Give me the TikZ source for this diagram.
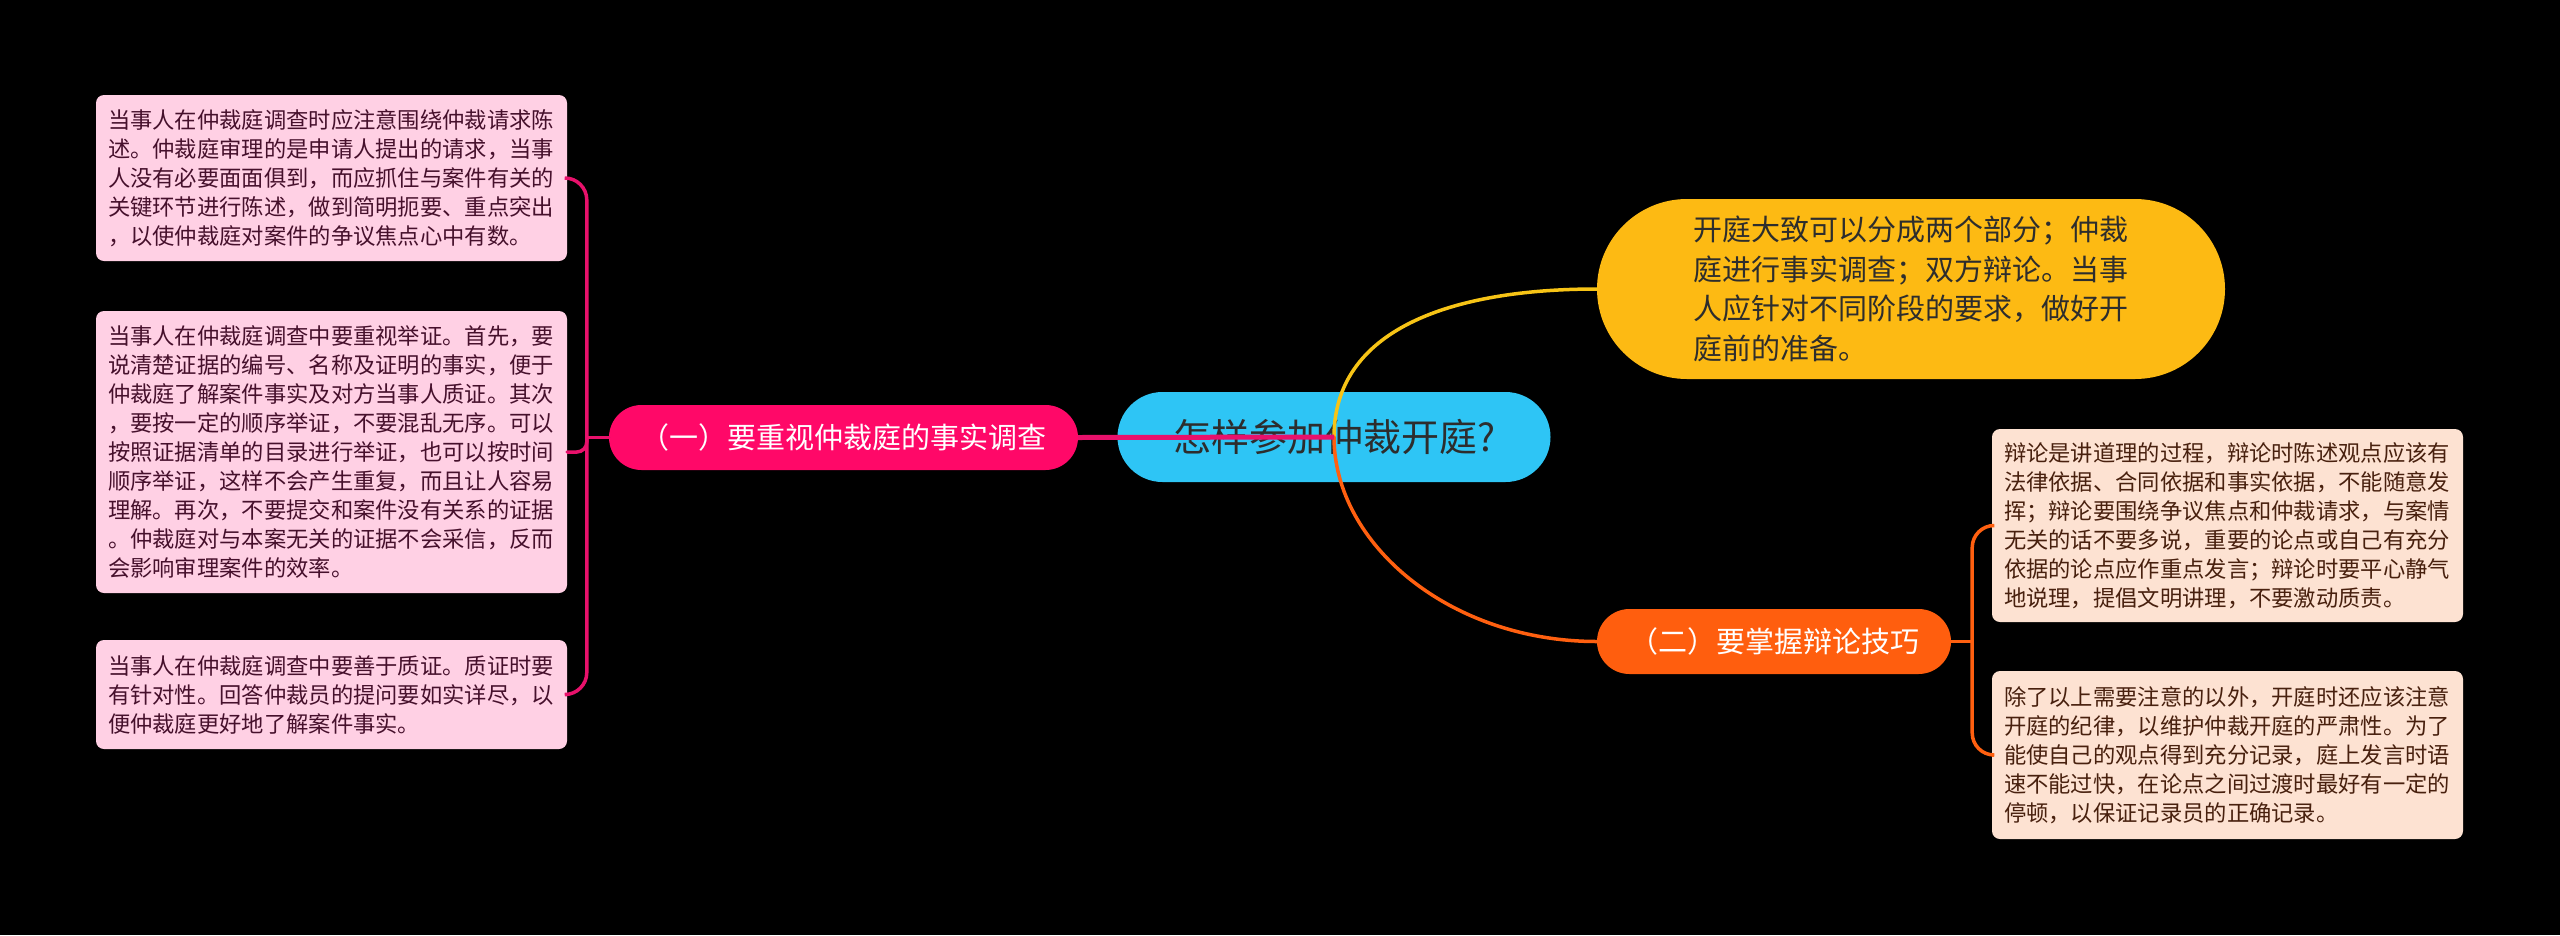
\documentclass[tikz,border=0pt]{standalone}
\usepackage{fontspec}
\setmainfont{Noto Sans CJK SC}
\definecolor{skyb}{RGB}{46,197,245}
\definecolor{rosy}{RGB}{255,8,104}
\definecolor{gold}{RGB}{253,186,19}
\definecolor{tang}{RGB}{255,94,14}
\definecolor{lpink}{RGB}{255,208,228}
\definecolor{rpeach}{RGB}{253,226,210}
\definecolor{ltext}{RGB}{70,16,44}
\definecolor{rtext}{RGB}{72,32,14}
\definecolor{dtext}{RGB}{45,45,45}
\definecolor{pkline}{RGB}{232,17,107}
\definecolor{ylline}{RGB}{247,196,22}
\definecolor{orline}{RGB}{255,96,16}
\begin{document}
\begin{tikzpicture}[x=1pt, y=-1pt, every node/.style={inner sep=0},
    pill/.style={rounded corners=32.5, minimum height=65, text=white, font=\fontsize{29}{35}\selectfont},
    leaf/.style={rounded corners=8, text width=447, inner xsep=12, align=left, font=\fontsize{22.3}{29}\selectfont},
    lleaf/.style={leaf, fill=lpink, text=ltext},
    rleaf/.style={leaf, fill=rpeach, text=rtext},
    wire/.style={line width=3.5, line cap=round}]
  \fill[black] (0,0) rectangle (2560,935);
  \node [fill=skyb, rounded corners=45, minimum width=433, minimum height=90, text=dtext, font=\fontsize{38}{44}\selectfont] (0) at (1334,437) {怎样参加仲裁开庭?};
  \node [pill, fill=rosy, minimum width=469] (1) at (843.5,437.5) {（一）要重视仲裁庭的事实调查};
  \node [pill, fill=tang, minimum width=354] (2) at (1774,641.5) {（二）要掌握辩论技巧};
  \node [fill=gold, rounded corners=90, minimum width=628, minimum height=180, text width=436, align=left, text=dtext, font=\fontsize{29}{39.5}\selectfont] (3) at (1911,289) {开庭大致可以分成两个部分；仲裁\\
    庭进行事实调查；双方辩论。当事\\
    人应针对不同阶段的要求，做好开\\
    庭前的准备。};
  \node [lleaf, minimum height=166] (11) at (331.5,178) {当事人在仲裁庭调查时应注意围绕仲裁请求陈\\
    述。仲裁庭审理的是申请人提出的请求，当事\\
    人没有必要面面俱到，而应抓住与案件有关的\\
    关键环节进行陈述，做到简明扼要、重点突出\\
    ，以使仲裁庭对案件的争议焦点心中有数。};
  \node [lleaf, minimum height=282] (12) at (331.5,452) {当事人在仲裁庭调查中要重视举证。首先，要\\
    说清楚证据的编号、名称及证明的事实，便于\\
    仲裁庭了解案件事实及对方当事人质证。其次\\
    ，要按一定的顺序举证，不要混乱无序。可以\\
    按照证据清单的目录进行举证，也可以按时间\\
    顺序举证，这样不会产生重复，而且让人容易\\
    理解。再次，不要提交和案件没有关系的证据\\
    。仲裁庭对与本案无关的证据不会采信，反而\\
    会影响审理案件的效率。};
  \node [lleaf, minimum height=109] (13) at (331.5,694.5) {当事人在仲裁庭调查中要善于质证。质证时要\\
    有针对性。回答仲裁员的提问要如实详尽，以\\
    便仲裁庭更好地了解案件事实。};
  \node [rleaf, minimum height=193] (21) at (2227.5,525.5) {辩论是讲道理的过程，辩论时陈述观点应该有\\
    法律依据、合同依据和事实依据，不能随意发\\
    挥；辩论要围绕争议焦点和仲裁请求，与案情\\
    无关的话不要多说，重要的论点或自己有充分\\
    依据的论点应作重点发言；辩论时要平心静气\\
    地说理，提倡文明讲理，不要激动质责。};
  \node [rleaf, minimum height=168] (22) at (2227.5,755) {除了以上需要注意的以外，开庭时还应该注意\\
    开庭的纪律，以维护仲裁开庭的严肃性。为了\\
    能使自己的观点得到充分记录，庭上发言时语\\
    速不能过快，在论点之间过渡时最好有一定的\\
    停顿，以保证记录员的正确记录。};
  % main branches
  \draw [wire, ylline] (0.center) .. controls +(0,-107) and +(-147,0) .. (3.west);
  \draw [wire, orline] (0.center) .. controls +(0,107) and +(-147,0) .. (2.west);
  \draw [line width=5, pkline] (1.east) -- (0.center);
  % leaves
  \draw [wire, pkline] (1.west) -- ++(-22,0) coordinate (j1);
  \draw [wire, pkline, rounded corners=22] (j1) |- (11.east);
  \draw [wire, pkline, rounded corners=10] (j1) |- (12.east);
  \draw [wire, pkline, rounded corners=22] (j1) |- (13.east);
  \draw [wire, orline] (2.east) -- ++(21,0) coordinate (j2);
  \draw [wire, orline, rounded corners=22] (j2) |- (21.west);
  \draw [wire, orline, rounded corners=22] (j2) |- (22.west);
\end{tikzpicture}
\end{document}
